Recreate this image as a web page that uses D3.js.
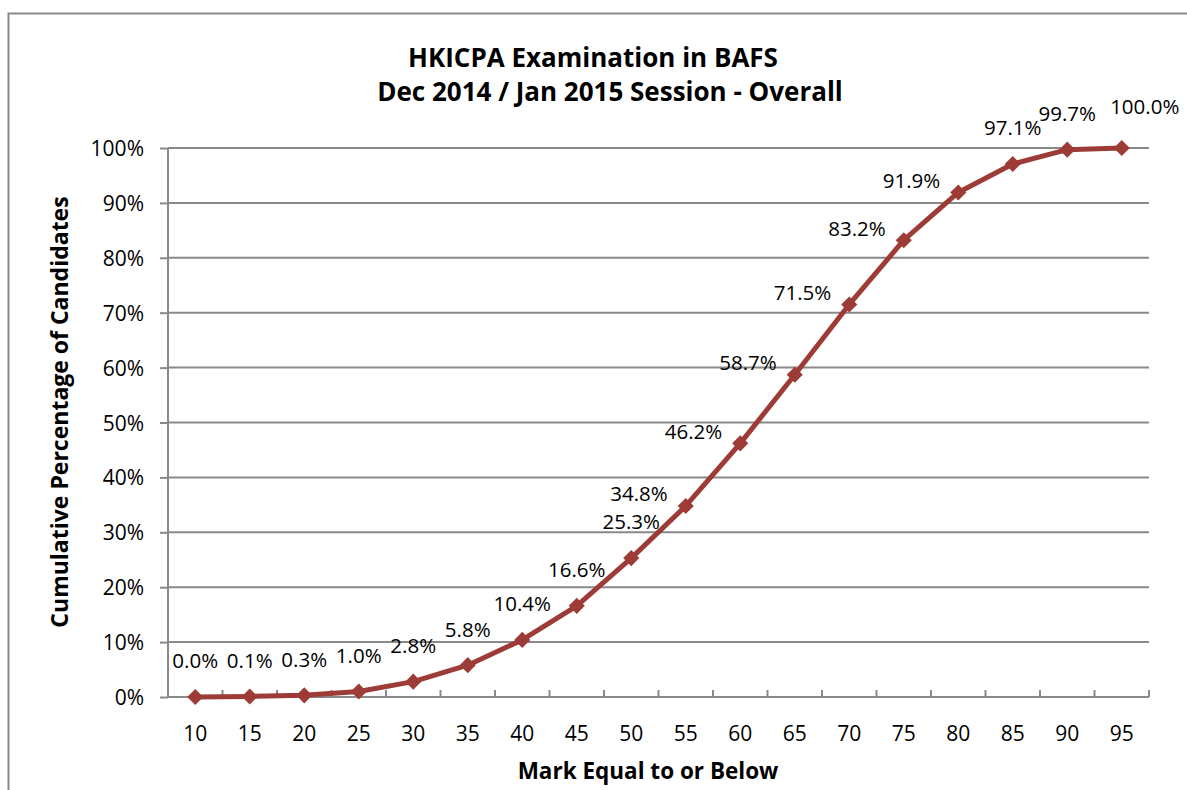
<!DOCTYPE html>
<html>
<head>
<meta charset="utf-8">
<script src="https://cdn.jsdelivr.net/npm/d3@7"></script>
<style>
  body { margin: 0; background: #fff; }
  text { font-family: "Open Sans", "Noto Sans", sans-serif; fill: #000; }
</style>
</head>
<body>
<div id="chart"></div>
<script>
const marks = ["10", "15", "20", "25", "30", "35", "40", "45", "50", "55", "60", "65", "70", "75", "80", "85", "90", "95"],
  cumulative = [0.0, 0.1, 0.3, 1.0, 2.8, 5.8, 10.4, 16.6, 25.3, 34.8, 46.2, 58.7, 71.5, 83.2, 91.9, 97.1, 99.7, 100.0],
  yTicks = [0, 10, 20, 30, 40, 50, 60, 70, 80, 90, 100],
  titleLines = ["HKICPA Examination in BAFS", "Dec 2014 / Jan 2015 Session - Overall"];

const WIDTH = 1187,
  HEIGHT = 790,
  LINE_COLOR = "#9d3b37",
  GRID_COLOR = "#898989",
  margin = { top: 148, right: 38, bottom: 93, left: 168 };

const svg = d3.select("#chart").append("svg")
  .attr("width", WIDTH)
  .attr("height", HEIGHT);

// outer chart frame (runs off right/bottom like the screenshot)
svg.append("rect")
  .attr("x", 8.5).attr("y", 13.5)
  .attr("width", WIDTH + 20).attr("height", HEIGHT + 20)
  .attr("fill", "none")
  .attr("stroke", GRID_COLOR)
  .attr("stroke-width", 2);

const x = d3.scaleBand()
  .domain(marks)
  .range([margin.left, WIDTH - margin.right]);

const y = d3.scaleLinear()
  .domain([0, 100])
  .range([HEIGHT - margin.bottom, margin.top]);

const cx = d => x(d) + x.bandwidth() / 2;

// gridlines + y axis
const yAxis = svg.append("g")
  .attr("transform", `translate(${margin.left},0)`)
  .call(d3.axisLeft(y).tickValues(yTicks).tickFormat(d => d + "%")
    .tickSize(8).tickPadding(16));
yAxis.select(".domain").remove();
yAxis.selectAll(".tick line").attr("stroke", GRID_COLOR).attr("stroke-width", 2);
yAxis.selectAll(".tick text").attr("font-size", 21).attr("dy", "0.36em");

svg.append("g")
  .selectAll("line")
  .data(yTicks.filter(d => d > 0))
  .enter()
  .append("line")
  .attr("x1", margin.left).attr("x2", WIDTH - margin.right)
  .attr("y1", d => y(d)).attr("y2", d => y(d))
  .attr("stroke", GRID_COLOR)
  .attr("stroke-width", 2);

svg.append("line")
  .attr("x1", margin.left).attr("x2", margin.left)
  .attr("y1", y(0)).attr("y2", y(100))
  .attr("stroke", GRID_COLOR)
  .attr("stroke-width", 2);

// x axis: ticks between categories, pointing up
const xAxis = svg.append("g")
  .attr("transform", `translate(0,${y(0)})`);
xAxis.append("line")
  .attr("x1", margin.left).attr("x2", WIDTH - margin.right)
  .attr("stroke", GRID_COLOR).attr("stroke-width", 2);
xAxis.selectAll(".sep")
  .data(marks.concat(["end"]))
  .enter()
  .append("line")
  .attr("class", "sep")
  .attr("x1", (d, i) => margin.left + i * x.step())
  .attr("x2", (d, i) => margin.left + i * x.step())
  .attr("y1", 0).attr("y2", -7)
  .attr("stroke", GRID_COLOR).attr("stroke-width", 2);
xAxis.selectAll(".lbl")
  .data(marks)
  .enter()
  .append("text")
  .attr("class", "lbl")
  .attr("x", d => cx(d))
  .attr("y", 36)
  .attr("dy", "0.36em")
  .attr("text-anchor", "middle")
  .attr("font-size", 21)
  .text(d => d);

// line + markers
const pts = marks.map((m, i) => ({ m: m, v: cumulative[i], i: i }));

svg.append("path")
  .datum(pts)
  .attr("d", d3.line().x(d => cx(d.m)).y(d => y(d.v)))
  .attr("fill", "none")
  .attr("stroke", LINE_COLOR)
  .attr("stroke-width", 5)
  .attr("stroke-linejoin", "round");

svg.append("g")
  .selectAll("path")
  .data(pts)
  .enter()
  .append("path")
  .attr("transform", d => `translate(${cx(d.m)},${y(d.v)})`)
  .attr("d", d3.symbol().type(d3.symbolDiamond2).size(165))
  .attr("fill", LINE_COLOR);

// data labels: above on the flat parts, left of the point on the steep part
function labelPlace(d) {
  if (d.i === pts.length - 1) return { dx: 23, dy: -41, anchor: "middle" };
  if (d.v > 30 && d.v < 95) return { dx: -18, dy: -12, anchor: "end" };
  return { dx: 0, dy: -36, anchor: "middle" };
}

svg.append("g")
  .selectAll("text")
  .data(pts)
  .enter()
  .append("text")
  .attr("x", d => cx(d.m) + labelPlace(d).dx)
  .attr("y", d => y(d.v) + labelPlace(d).dy)
  .attr("dy", "0.36em")
  .attr("text-anchor", d => labelPlace(d).anchor)
  .attr("font-size", 20.5)
  .text(d => d.v.toFixed(1) + "%");

// titles
svg.append("text")
  .attr("x", 593).attr("y", 58).attr("dy", "0.36em")
  .attr("text-anchor", "middle")
  .attr("font-size", 26).attr("font-weight", "bold")
  .text(titleLines[0]);
svg.append("text")
  .attr("x", 610).attr("y", 92).attr("dy", "0.36em")
  .attr("text-anchor", "middle")
  .attr("font-size", 26).attr("font-weight", "bold")
  .text(titleLines[1]);

svg.append("text")
  .attr("x", 648).attr("y", 771).attr("dy", "0.36em")
  .attr("text-anchor", "middle")
  .attr("font-size", 22.5).attr("font-weight", "bold")
  .text("Mark Equal to or Below");

svg.append("text")
  .attr("transform", "translate(60,412) rotate(-90)")
  .attr("dy", "0.36em")
  .attr("text-anchor", "middle")
  .attr("font-size", 23).attr("font-weight", "bold")
  .text("Cumulative Percentage of Candidates");
</script>
</body>
</html>
